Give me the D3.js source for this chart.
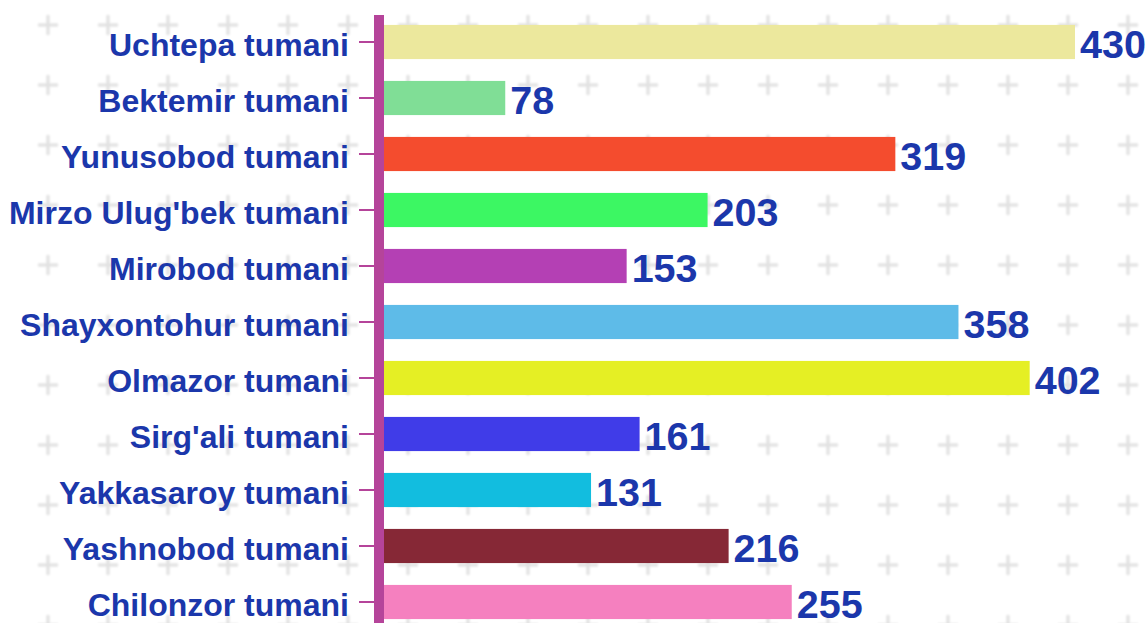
<!DOCTYPE html>
<html>
<head>
<meta charset="utf-8">
<script src="https://cdn.jsdelivr.net/npm/d3@7"></script>
<style>
  html, body { margin: 0; padding: 0; background: #ffffff; }
  svg { display: block; }
</style>
</head>
<body>
<svg id="chart" width="1148" height="623"></svg>
<script>
// District names (top to bottom), their counts and bar colours
const districts = [
  "Uchtepa tumani", "Bektemir tumani", "Yunusobod tumani", "Mirzo Ulug'bek tumani",
  "Mirobod tumani", "Shayxontohur tumani", "Olmazor tumani", "Sirg'ali tumani",
  "Yakkasaroy tumani", "Yashnobod tumani", "Chilonzor tumani"
];
const counts = [430, 78, 319, 203, 153, 358, 402, 161, 131, 216, 255];
const barColors = [
  "#ece89d", "#80de96", "#f44c2e", "#3cf763", "#b440b4", "#5ebbe8",
  "#e5ef24", "#403ce8", "#12bddf", "#862836", "#f580bf"
];

const W = 1148, H = 623;
const textColor = "#1b37ab";
const axisColor = "#b5449a";

const svg = d3.select("#chart");
const defs = svg.append("defs");

// soft grey plus-sign backdrop
const blur = defs.append("filter").attr("id", "soft")
  .attr("x", "-20%").attr("y", "-20%").attr("width", "140%").attr("height", "140%");
blur.append("feGaussianBlur").attr("stdDeviation", 0.9);

const pat = defs.append("pattern")
  .attr("id", "plus")
  .attr("patternUnits", "userSpaceOnUse")
  .attr("x", 18).attr("y", -5)
  .attr("width", 60).attr("height", 60);
const pg = pat.append("g").attr("filter", "url(#soft)")
  .attr("stroke", "#e2e2e2").attr("stroke-width", 3.2);
pg.append("line").attr("x1", 20).attr("x2", 40).attr("y1", 30).attr("y2", 30);
pg.append("line").attr("x1", 30).attr("x2", 30).attr("y1", 20).attr("y2", 40);

svg.append("rect").attr("width", W).attr("height", H).attr("fill", "url(#plus)");

// scales
const x = d3.scaleLinear().domain([0, 430]).range([379, 1075]);
const y = d3.scaleBand().domain(districts).range([14, 630])
  .paddingInner(0.39).paddingOuter(0.195);

// bars
svg.append("g").selectAll("rect")
  .data(districts)
  .join("rect")
  .attr("x", x(0))
  .attr("y", d => y(d))
  .attr("width", (d, i) => x(counts[i]) - x(0))
  .attr("height", y.bandwidth())
  .attr("fill", (d, i) => barColors[i]);

// value labels
svg.append("g").selectAll("text")
  .data(districts)
  .join("text")
  .attr("x", (d, i) => x(counts[i]) + 5)
  .attr("y", d => y(d) + y.bandwidth() / 2 + 16)
  .attr("fill", textColor)
  .attr("font-family", "'Liberation Sans', Arial, sans-serif")
  .attr("font-weight", "bold")
  .attr("font-size", 39.5)
  .text((d, i) => counts[i]);

// category axis
const axisX = 379;
const yAxis = d3.axisLeft(y).tickSize(15).tickPadding(10);
const ag = svg.append("g").attr("transform", `translate(${axisX - 5},0)`).call(yAxis);
ag.select(".domain").remove();
ag.selectAll(".tick line").attr("stroke", axisColor).attr("stroke-width", 2);
ag.selectAll(".tick text")
  .attr("fill", textColor)
  .attr("font-family", "'Liberation Sans', Arial, sans-serif")
  .attr("font-weight", "bold")
  .attr("font-size", 32)
  .attr("dy", "0.45em");

// thick axis spine
svg.append("rect")
  .attr("x", axisX - 5).attr("y", 15)
  .attr("width", 10).attr("height", H - 15)
  .attr("fill", axisColor);
</script>
</body>
</html>
